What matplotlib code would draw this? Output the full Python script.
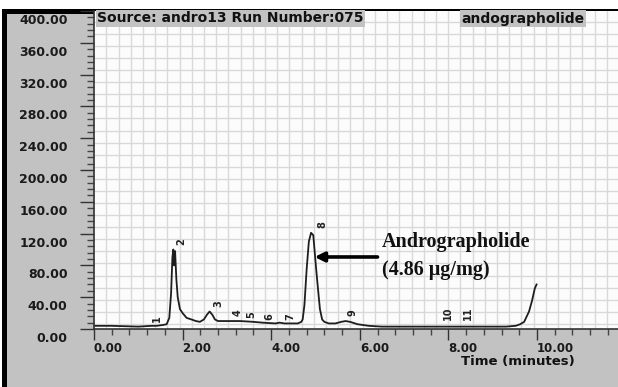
import numpy as np
import matplotlib
matplotlib.use("Agg")
import matplotlib.pyplot as plt
from matplotlib.patches import Rectangle
from matplotlib.transforms import ScaledTranslation
from matplotlib.ticker import MultipleLocator, FormatStrFormatter

# ---------------- data ----------------
time_min = [0.00, 0.40, 1.00, 1.30, 1.41, 1.55, 1.64, 1.70, 1.74, 1.77, 1.79, 1.81,
            1.83, 1.86, 1.89, 1.94, 2.00, 2.09, 2.20, 2.30, 2.39, 2.48, 2.55, 2.61,
            2.67, 2.73, 2.80, 3.00, 3.30, 3.60, 3.80, 4.10, 4.19, 4.30, 4.60, 4.68,
            4.71, 4.75, 4.80, 4.85, 4.90, 4.95, 5.00, 5.04, 5.10, 5.15, 5.20, 5.30,
            5.45, 5.58, 5.68, 5.78, 5.95, 6.20, 6.50, 7.00, 8.00, 9.00, 9.30, 9.52,
            9.62, 9.71, 9.82, 9.89, 9.95, 9.99]
signal = [4, 4, 3, 4, 4, 5, 6, 14, 45, 90, 100, 80,
          98, 62, 40, 25, 20, 14, 12, 10, 9, 12, 18, 22,
          18, 12, 10, 10, 10, 9, 8, 7, 8, 7, 7, 9,
          12, 30, 75, 110, 121, 118, 85, 60, 25, 12, 9, 7,
          7, 9, 10, 9, 6, 4, 3, 3, 3, 3, 3, 4,
          6, 9, 22, 36, 51, 56]

peak_ids = ["1", "2", "3", "4", "5", "6", "7", "8", "9", "10", "11"]
peak_label_t = [1.41, 1.98, 2.80, 3.25, 3.55, 3.96, 4.43, 5.16, 5.84, 7.99, 8.43]
peak_label_y = [13.5, 110, 32, 20, 18.5, 15.5, 15.5, 131, 20, 20, 20]

y_ticks = [0, 40, 80, 120, 160, 200, 240, 280, 320, 360, 400]
x_ticks = [0, 2, 4, 6, 8, 10]

source_text = "Source: andro13 Run Number:075"
compound_text = "andographolide"
xlabel_text = "Time (minutes)"
annot_name = "Andrographolide"
annot_amount = "(4.86 \u03bcg/mg)"
arrow_tip = (4.98, 90.6)
arrow_tail = (6.40, 90.6)

# ---------------- figure ----------------
W, H = 618, 387
fig = plt.figure(figsize=(W / 100, H / 100), dpi=100, facecolor="white")

# grey frame with black top/left border
fig.patches.append(Rectangle((7 / W, 0), 1 - 7 / W, 1 - 14 / H, transform=fig.transFigure,
                             facecolor="#c2c2c2", edgecolor="none", zorder=-3))
fig.patches.append(Rectangle((2 / W, 1 - 14 / H), 1 - 2 / W, 4.5 / H, transform=fig.transFigure,
                             facecolor="black", edgecolor="none", zorder=-2))
fig.patches.append(Rectangle((2 / W, 0), 5 / W, 1 - 10 / H, transform=fig.transFigure,
                             facecolor="black", edgecolor="none", zorder=-2))

x0, x1 = 94, 618
y_top, y_bot = 11, 329
ax = fig.add_axes([x0 / W, (H - y_bot) / H, (x1 - x0) / W, (y_bot - y_top) / H])
ax.set_zorder(1)
ax.set_facecolor("#fcfcfc")
px_per_min = 44.3
ax.set_xlim(0, (x1 - x0) / px_per_min)
ax.set_ylim(0, 400)

# fine background grid
for gx in np.arange(0.28, 12, 0.2755):
    ax.axvline(gx, color="#d9d9d9", lw=1.0, zorder=0.5)
for gy in np.arange(356 - 15.2 * 24, 401, 15.2):
    if gy > 0:
        ax.axhline(gy, color="#d9d9d9", lw=1.0, zorder=0.5)

# trace
ax.plot(time_min, signal, color="#1e1e1e", lw=1.3, zorder=3)

# peak numbers
for pid, pt, py in zip(peak_ids, peak_label_t, peak_label_y):
    ax.text(pt, py, pid, rotation=90, ha="center", va="center", fontsize=7,
            fontweight="bold", color="#222222", zorder=4)

# annotation
ax.annotate("", xy=arrow_tip, xytext=arrow_tail,
            arrowprops=dict(arrowstyle="-|>", lw=2.6, color="black", mutation_scale=14,
                            shrinkA=0, shrinkB=0), zorder=5)
ax.text(6.49, 109, annot_name, fontsize=14.5, fontweight="bold", family="Liberation Serif",
        ha="left", va="center", color="#111111", zorder=5)
ax.text(6.49, 74, annot_amount, fontsize=14.5, fontweight="bold", family="Liberation Serif",
        ha="left", va="center", color="#111111", zorder=5)

# spines
for s in ["top", "right"]:
    ax.spines[s].set_visible(False)
for s in ["left", "bottom"]:
    ax.spines[s].set_color("#333333")
    ax.spines[s].set_linewidth(1.2)
    ax.spines[s].set_zorder(6)

# ticks
ax.set_yticks(y_ticks)
ax.yaxis.set_minor_locator(MultipleLocator(8))
ax.set_xticks(x_ticks)
ax.xaxis.set_minor_locator(MultipleLocator(0.4))
ax.yaxis.set_major_formatter(FormatStrFormatter("%.2f"))
ax.xaxis.set_major_formatter(FormatStrFormatter("%.2f"))
ax.tick_params(axis="y", which="major", length=10, width=1, color="#333333", pad=9,
               labelsize=9, labelcolor="#1a1a1a")
ax.tick_params(axis="y", which="minor", length=5, width=1, color="#444444")
ax.tick_params(axis="x", which="major", length=8, width=1, color="#333333", pad=1.0,
               labelsize=8.5, labelcolor="#1a1a1a")
ax.tick_params(axis="x", which="minor", length=4, width=1, color="#444444")
for lab in ax.get_yticklabels():
    lab.set_fontweight("bold")
    lab.set_transform(lab.get_transform() + ScaledTranslation(0, -8 / 100, fig.dpi_scale_trans))
for lab in ax.get_xticklabels():
    lab.set_fontweight("bold")
    lab.set_horizontalalignment("left")

# header texts and axis title
fig.text(97 / W, 1 - 18.5 / H, source_text, fontsize=10, fontweight="bold", color="#111111",
         ha="left", va="center", zorder=10,
         bbox=dict(boxstyle="square,pad=0.1", facecolor="#c2c2c2", edgecolor="none"))
fig.text(461 / W, 1 - 18.5 / H, compound_text, fontsize=10, fontweight="bold", color="#111111",
         ha="left", va="center", zorder=10,
         bbox=dict(boxstyle="square,pad=0.1", facecolor="#c2c2c2", edgecolor="none"))
fig.text(461 / W, 1 - 361.5 / H, xlabel_text, fontsize=9.5, fontweight="bold", color="#111111",
         ha="left", va="center")

fig.savefig("out.png", dpi=100, facecolor="white")
